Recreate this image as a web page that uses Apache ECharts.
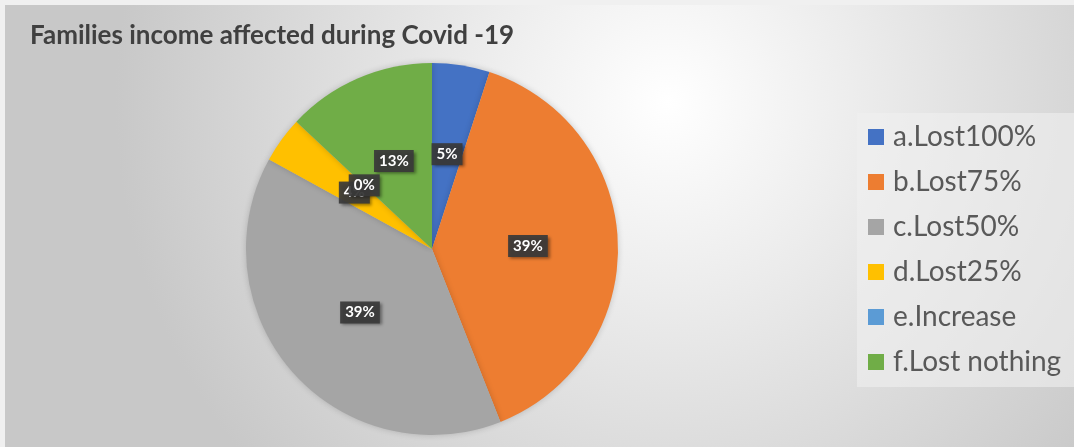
<!DOCTYPE html>
<html>
<head>
<meta charset="utf-8">
<script src="https://cdn.jsdelivr.net/npm/echarts@6/dist/echarts.min.js"></script>
<style>
  html, body { margin: 0; padding: 0; background: #f0f0f0; overflow: hidden; }
  #chart { position: absolute; left: 5px; top: 5px; width: 1069px; height: 442px; }
</style>
</head>
<body>
<div id="chart"></div>
<script>
// Share of families by how their income changed (percent of respondents)
const categories = ['a.Lost100%', 'b.Lost75%', 'c.Lost50%', 'd.Lost25%', 'e.Increase', 'f.Lost nothing'];
const shares = [5, 39, 39, 4, 0, 13];
const colors = ['#4472C4', '#ED7D31', '#A5A5A5', '#FFC000', '#5B9BD5', '#70AD47'];
const titleText = 'Families income affected during Covid -19';

const chart = echarts.init(document.getElementById('chart'), null, { renderer: 'canvas' });

const pieData = categories.map((name, i) => ({
  name: name,
  value: shares[i],
  itemStyle: { color: colors[i] }
}));

const labelStyle = {
  fontFamily: 'Lato',
  fontWeight: 'bold',
  fontSize: 15,
  color: '#ffffff',
  backgroundColor: 'rgba(58,58,58,0.92)',
  padding: [4, 5, 3, 5],
  shadowBlur: 3,
  shadowOffsetX: 2,
  shadowOffsetY: 2,
  shadowColor: 'rgba(0,0,0,0.45)'
};

chart.setOption({
  animation: false,
  backgroundColor: {
    type: 'radial', x: 0.62, y: 0.22, r: 1.25,
    colorStops: [
      { offset: 0, color: '#ffffff' },
      { offset: 0.35, color: '#ececec' },
      { offset: 1, color: '#c8c8c8' }
    ]
  },
  title: {
    text: titleText,
    left: 20,
    top: 13,
    textStyle: { fontFamily: 'Lato', fontWeight: 'bold', fontSize: 26, color: '#404040' }
  },
  legend: {
    orient: 'vertical',
    left: 852,
    top: 108,
    padding: [9, 40, 10, 11],
    backgroundColor: 'rgba(240,240,240,0.6)',
    itemWidth: 16,
    itemHeight: 16,
    itemGap: 15,
    icon: 'rect',
    data: categories,
    textStyle: { fontFamily: 'Lato', fontSize: 28, color: '#595959', lineHeight: 30, padding: [0, 0, 0, 4] }
  },
  series: [{
    type: 'pie',
    center: [427, 244],
    radius: 186,
    startAngle: 90,
    clockwise: true,
    avoidLabelOverlap: false,
    minShowLabelAngle: -1,
    data: pieData,
    itemStyle: { shadowBlur: 6, shadowColor: 'rgba(0,0,0,0.18)' },
    label: Object.assign({ show: true, position: 'inside', formatter: '{c}%' }, labelStyle),
    labelLine: { show: false },
    emphasis: { disabled: true }
  }]
});

// A zero-share slice has no arc, so the pie may drop its label; put the label
// back at that slice's angle, half way out, using the series' own layout.
(function restoreZeroLabels() {
  const seriesModel = chart.getModel().getSeriesByIndex(0);
  const data = seriesModel.getData();
  const extra = [];
  data.each(function (idx) {
    const el = data.getItemGraphicEl(idx);
    const txt = el && el.getTextContent && el.getTextContent();
    const shown = txt && !txt.ignore && !txt.invisible;
    if (shown) return;
    const layout = data.getItemLayout(idx);
    const mid = (layout.startAngle + layout.endAngle) / 2;
    const rr = (layout.r0 + layout.r) / 2;
    extra.push({
      type: 'text',
      z: 100,
      x: layout.cx + Math.cos(mid) * rr,
      y: layout.cy + Math.sin(mid) * rr,
      style: {
        text: data.get('value', idx) + '%',
        fill: labelStyle.color,
        font: 'bold ' + labelStyle.fontSize + 'px ' + labelStyle.fontFamily,
        align: 'center',
        verticalAlign: 'middle',
        backgroundColor: labelStyle.backgroundColor,
        padding: labelStyle.padding,
        shadowBlur: labelStyle.shadowBlur,
        shadowOffsetX: labelStyle.shadowOffsetX,
        shadowOffsetY: labelStyle.shadowOffsetY,
        shadowColor: labelStyle.shadowColor
      }
    });
  });
  if (extra.length) chart.setOption({ graphic: extra });
})();
</script>
</body>
</html>
